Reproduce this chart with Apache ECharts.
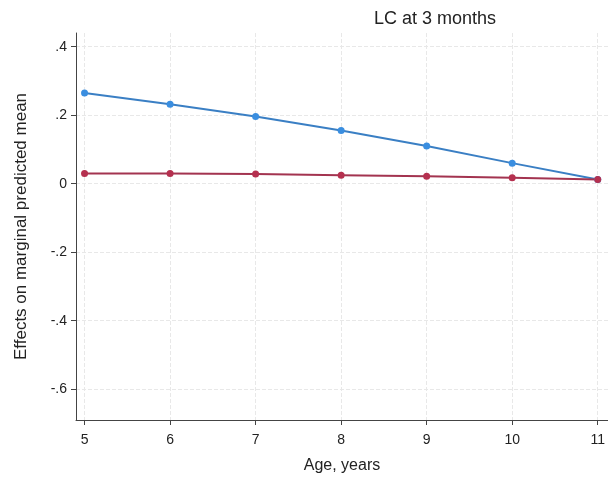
<!DOCTYPE html>
<html>
<head>
<meta charset="utf-8">
<script src="https://cdn.jsdelivr.net/npm/echarts@6/dist/echarts.min.js"></script>
<style>
  html, body { margin: 0; padding: 0; background: #fff; }
  #chart { width: 608px; height: 479px; }
</style>
</head>
<body>
<div id="chart"></div>
<script>
var ages = [5, 6, 7, 8, 9, 10, 11]
var blueVals = [0.265, 0.232, 0.196, 0.155, 0.110, 0.060, 0.012]
var redVals = [0.030, 0.030, 0.028, 0.025, 0.022, 0.017, 0.012]
var yTicks = [-0.6, -0.4, -0.2, 0, 0.2, 0.4]

var font = 'Liberation Sans, Arial, sans-serif'

function pairs(vals) {
  return ages.map(function (a, i) {
    return [a, vals[i]]
  })
}

var chart = echarts.init(document.getElementById('chart'))
chart.setOption({
  animation: false,
  title: {
    text: 'LC at 3 months',
    left: 430,
    top: 5,
    textAlign: 'center',
    textStyle: { fontFamily: font, fontSize: 18, fontWeight: 'normal', color: '#222' }
  },
  grid: { left: 76, right: 0, top: 33, bottom: 59 },
  xAxis: {
    type: 'value',
    min: 4.9,
    max: 11.12,
    name: 'Age, years',
    nameLocation: 'middle',
    nameGap: 38,
    nameTextStyle: { fontFamily: font, fontSize: 16, color: '#222' },
    axisLine: { onZero: false, lineStyle: { color: '#444', width: 1 } },
    axisTick: { show: true, length: 5, customValues: ages, lineStyle: { color: '#444' } },
    axisLabel: {
      fontFamily: font, fontSize: 14, color: '#222', margin: 13,
      customValues: ages
    },
    splitLine: { show: true, lineStyle: { color: '#e8e8e8', type: 'dashed' } }
  },
  yAxis: {
    type: 'value',
    min: -0.69,
    max: 0.44,
    name: 'Effects on marginal predicted mean',
    nameLocation: 'middle',
    nameGap: 46,
    nameTextStyle: { fontFamily: font, fontSize: 17, color: '#222' },
    axisLine: { show: true, lineStyle: { color: '#444', width: 1 } },
    axisTick: { show: true, length: 5, customValues: yTicks, lineStyle: { color: '#444' } },
    axisLabel: {
      fontFamily: font, fontSize: 14, color: '#222', margin: 9,
      customValues: yTicks,
      formatter: function (v) {
        var r = Math.round(v * 10) / 10
        if (r === 0) return '0'
        return r.toFixed(1).replace('0.', '.')
      }
    },
    splitLine: { show: true, lineStyle: { color: '#e8e8e8', type: 'dashed' } }
  },
  series: [
    {
      name: 'blue',
      type: 'line',
      data: pairs(blueVals),
      symbol: 'circle',
      symbolSize: 7,
      itemStyle: { color: '#3a8ee0' },
      lineStyle: { color: '#3a7fc4', width: 2 }
    },
    {
      name: 'red',
      type: 'line',
      data: pairs(redVals),
      symbol: 'circle',
      symbolSize: 7,
      itemStyle: { color: '#b5304f' },
      lineStyle: { color: '#a33450', width: 2 }
    }
  ]
})
</script>
</body>
</html>
